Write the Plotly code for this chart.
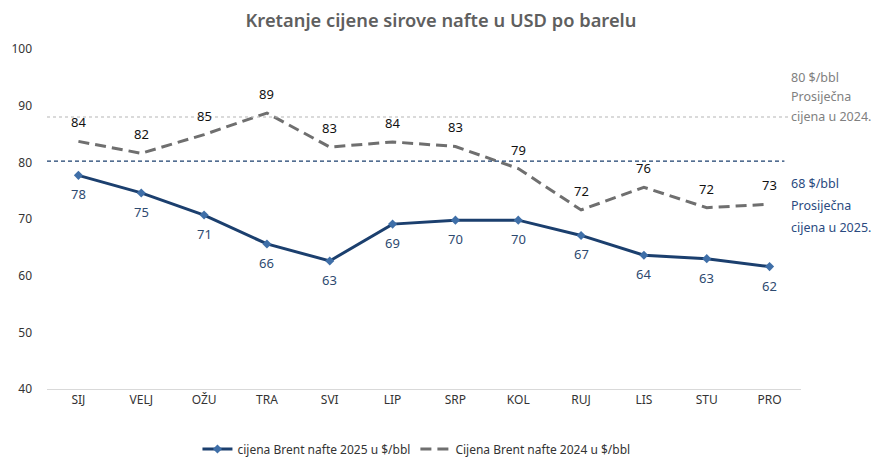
import plotly.graph_objects as go

months = ["SIJ", "VELJ", "OŽU", "TRA", "SVI", "LIP", "SRP", "KOL", "RUJ", "LIS", "STU", "PRO"]
brent_2025 = [77.7, 74.6, 70.7, 65.6, 62.6, 69.1, 69.8, 69.8, 67.1, 63.6, 63.0, 61.6]
brent_2024 = [83.7, 81.6, 84.9, 88.7, 82.7, 83.6, 82.8, 78.9, 71.6, 75.6, 72.0, 72.6]
avg_2024_line = 88.0
avg_2025_line = 80.2
y_ticks = [40, 50, 60, 70, 80, 90, 100]
note_2024 = ["80 $/bbl", "Prosiječna", "cijena u 2024."]
note_2025 = ["68 $/bbl", "Prosiječna", "cijena u 2025."]

NAVY = "#1b3f6e"
GRAY = "#6f6f6f"
FONT = "Noto Sans"

fig = go.Figure()

fig.add_trace(go.Scatter(
    x=months, y=brent_2025, mode="lines+markers",
    name="cijena Brent nafte 2025 u $/bbl",
    line=dict(color=NAVY, width=3),
    marker=dict(symbol="diamond", size=7, color="#3f6fa8"),
))

fig.add_trace(go.Scatter(
    x=months, y=brent_2024, mode="lines",
    name="Cijena Brent nafte 2024 u $/bbl",
    line=dict(color=GRAY, width=3, dash="11px,6px"),
))

for m, v in zip(months, brent_2025):
    fig.add_annotation(x=m, y=v, text=f"{round(v):.0f}", showarrow=False,
                       yshift=-19, font=dict(color="#2e4a70", size=13, family=FONT))
for m, v in zip(months, brent_2024):
    fig.add_annotation(x=m, y=v, text=f"{round(v):.0f}", showarrow=False,
                       yshift=19, font=dict(color="#111111", size=13, family=FONT))

fig.add_shape(type="line", xref="paper", yref="y", x0=0, x1=0.985,
              y0=avg_2024_line, y1=avg_2024_line,
              line=dict(color="#b5b5b5", width=1.2, dash="3px,3px"))
fig.add_shape(type="line", xref="paper", yref="y", x0=0, x1=0.978,
              y0=avg_2025_line, y1=avg_2025_line,
              line=dict(color=NAVY, width=1.2, dash="4px,3px"))

PLOT_TOP, PLOT_H = 41, 340
for i, line in enumerate(note_2024):
    fig.add_annotation(xref="paper", yref="paper", x=0.984,
                       y=1 - (69 + 20 * i - PLOT_TOP) / PLOT_H,
                       text=line, showarrow=False, xanchor="left", yanchor="middle",
                       font=dict(color="#808080", size=12.5, family=FONT))
for i, line in enumerate(note_2025):
    fig.add_annotation(xref="paper", yref="paper", x=0.984,
                       y=1 - (176 + 21.5 * i - PLOT_TOP) / PLOT_H,
                       text=line, showarrow=False, xanchor="left", yanchor="middle",
                       font=dict(color="#2a4a80", size=12.5, family=FONT))

fig.update_layout(
    width=879, height=457,
    margin=dict(l=39, r=86, t=41, b=76),
    paper_bgcolor="white", plot_bgcolor="white",
    title=dict(text="Kretanje cijene sirove nafte u USD po barelu",
               x=0.4926, xref="container", y=0.973, yanchor="middle",
               font=dict(size=18.3, color="#5f5f5f", family=FONT, weight=600)),
    showlegend=True,
    legend=dict(orientation="h", x=0.49, xanchor="center",
                yref="container", y=0.035, yanchor="middle",
                font=dict(size=12, color="#333333", family=FONT)),
    font=dict(family=FONT),
)

fig.update_xaxes(showgrid=False, showline=True, linecolor="#d9d9d9", linewidth=1,
                 ticks="", tickfont=dict(size=12, color="#333333"),
                 range=[-0.5, 11.5], automargin=False)
fig.update_yaxes(range=[40, 100], tickvals=y_ticks, showgrid=False, zeroline=False,
                 showline=False, ticks="", tickfont=dict(size=12, color="#333333"),
                 ticklabelstandoff=14, automargin=False)

fig.write_html("out.html")
